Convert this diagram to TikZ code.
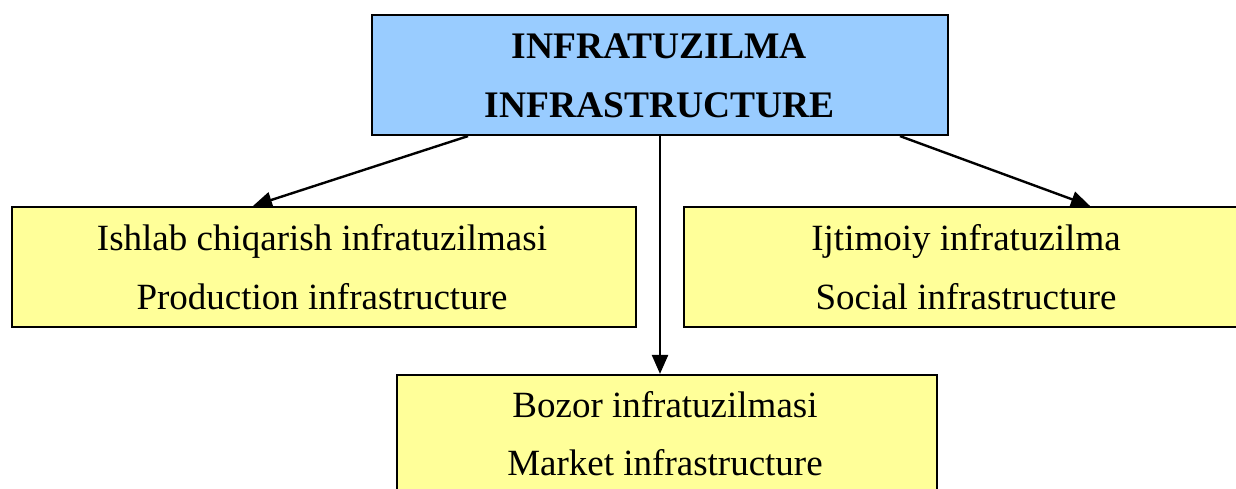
\documentclass[tikz,border=0pt]{standalone}
\usepackage{fontspec}
\setmainfont{Liberation Serif}
\usetikzlibrary{arrows.meta}
\definecolor{headblue}{HTML}{99CCFF}
\definecolor{boxyellow}{HTML}{FFFF99}
\begin{document}
\begin{tikzpicture}[x=1pt,y=-1pt,
  frame/.style={draw=black,line width=2.2pt,rectangle,inner sep=0pt},
  headbox/.style={frame,fill=headblue},
  subbox/.style={frame,fill=boxyellow},
  label/.style={anchor=base,inner sep=0pt,font=\fontsize{37}{42}\selectfont},
  headlabel/.style={label,font=\fontsize{37.5}{42}\selectfont\bfseries},
  link/.style={draw=black,line width=2.4pt,-{Triangle[length=19pt,width=16pt]}}]
  \useasboundingbox (0,0) rectangle (1236,488);
  % boxes
  \node[headbox,minimum width=576pt,minimum height=120pt] (top) at (660,75) {};
  \node[subbox,minimum width=624pt,minimum height=120pt] (prod) at (324,267) {};
  \node[subbox,minimum width=564pt,minimum height=120pt] (soc) at (966,267) {};
  \node[subbox,minimum width=540pt,minimum height=140pt] (mkt) at (667,445) {};
  % texts
  \node[headlabel] (t1) at (659,58) {INFRATUZILMA};
  \node[headlabel] (t2) at (660,117) {INFRASTRUCTURE};
  \node[label] (p1) at (322,250) {Ishlab chiqarish infratuzilmasi};
  \node[label] (p2) at (322,309) {Production infrastructure};
  \node[label] (s1) at (966,250) {Ijtimoiy infratuzilma};
  \node[label] (s2) at (966,309) {Social infrastructure};
  \node[label] (m1) at (665,417) {Bozor infratuzilmasi};
  \node[label] (m2) at (665,475) {Market infrastructure};
  % connectors
  \draw[link] ([xshift=-192pt]top.south) -- ([xshift=-71pt]prod.north);
  \draw[link] (top.south) -- (mkt.north -| top.south);
  \draw[link] ([xshift=240pt]top.south) -- ([xshift=124pt]soc.north);
\end{tikzpicture}
\end{document}
